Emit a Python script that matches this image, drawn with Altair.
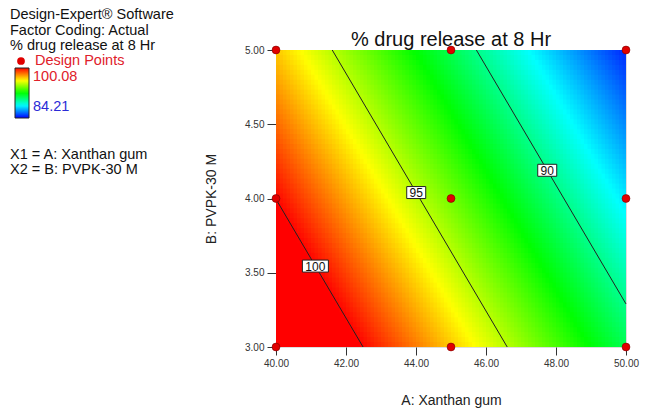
import altair as alt
import pandas as pd
import numpy as np

# ---- values ----
title_text = "% drug release at 8 Hr"
x_title = "A: Xanthan gum"
y_title = "B: PVPK-30 M"
x_range = [40.0, 50.0]
y_range = [3.0, 5.0]
x_ticks = [40, 42, 44, 46, 48, 50]
y_ticks = [3.0, 3.5, 4.0, 4.5, 5.0]

# fitted linear response:
# R = intercept - slope_A*(A-40) - slope_B*(B-3)
model_intercept = 103.02
model_slope_A = 1.214
model_slope_B = 3.035

resp_min = 84.21
resp_max = 100.08
color_stops = [84.21, 88.18, 92.15, 96.11, 100.08]
color_range = ["#0000ff", "#00ffff", "#00ff00", "#ffff00", "#ff0000"]

contour_levels = [100, 95, 90]
contour_label_B = [3.545, 4.04, 4.19]

design_A = [40, 45, 50, 40, 45, 50, 40, 45, 50]
design_B = [3, 3, 3, 4, 4, 4, 5, 5, 5]

info_lines = ["Design-Expert® Software", "Factor Coding: Actual", "% drug release at 8 Hr"]
factor_lines = ["X1 = A: Xanthan gum", "X2 = B: PVPK-30 M"]


def resp(a, b):
    return model_intercept - model_slope_A * (a - 40) - model_slope_B * (b - 3)


def a_at(level, b):
    return 40 + (model_intercept - model_slope_B * (b - 3) - level) / model_slope_A


def b_at(level, a):
    return 3 + (model_intercept - model_slope_A * (a - 40) - level) / model_slope_B


# ---- surface grid ----
nx, ny = 100, 60
xs = np.linspace(x_range[0], x_range[1], nx + 1)
ys = np.linspace(y_range[0], y_range[1], ny + 1)
dx = xs[1] - xs[0]
dy = ys[1] - ys[0]
rows = []
for i in range(nx):
    for j in range(ny):
        a0, a1 = xs[i], xs[i + 1]
        b0, b1 = ys[j], ys[j + 1]
        rows.append({
            "A0": a0, "A1": min(a1 + 0.4 * dx, x_range[1]),
            "B0": b0, "B1": min(b1 + 0.4 * dy, y_range[1]),
            "R": resp((a0 + a1) / 2, (b0 + b1) / 2),
        })
grid = pd.DataFrame(rows)

# ---- contour line segments (clipped to the design space) ----
seg_rows = []
for lev in contour_levels:
    pts = []
    for b in y_range:
        a = a_at(lev, b)
        if a < x_range[0]:
            pts.append((x_range[0], b_at(lev, x_range[0])))
        elif a > x_range[1]:
            pts.append((x_range[1], b_at(lev, x_range[1])))
        else:
            pts.append((a, b))
    for k, (a, b) in enumerate(pts):
        seg_rows.append({"level": lev, "order": k, "A": a, "B": b})
segs = pd.DataFrame(seg_rows)

labels = pd.DataFrame({
    "level": contour_levels,
    "txt": [str(l) for l in contour_levels],
    "B": contour_label_B,
    "A": [a_at(l, b) for l, b in zip(contour_levels, contour_label_B)],
})

design = pd.DataFrame({"A": design_A, "B": design_B})

FONT = "Liberation Sans"

xs_scale = alt.Scale(domain=x_range, nice=False, zero=False)
ys_scale = alt.Scale(domain=y_range, nice=False, zero=False)
x_axis = alt.Axis(values=x_ticks, format=".2f", title=x_title, grid=False,
                  tickSize=8, labelPadding=3, titlePadding=25, labelFontSize=10,
                  titleFontSize=14, titleFontWeight="normal", domain=False,
                  labelFlush=False, labelOverlap=False,
                  labelColor="#333333", tickColor="#333333", titleColor="#222222",
                  labelFont=FONT, titleFont=FONT)
y_axis = alt.Axis(values=y_ticks, format=".2f", title=y_title, grid=False,
                  tickSize=9, labelPadding=3, titlePadding=26, labelFontSize=10,
                  titleFontSize=14, titleFontWeight="normal", domain=False,
                  labelFlush=False, labelOverlap=False,
                  labelColor="#333333", tickColor="#333333", titleColor="#222222",
                  labelFont=FONT, titleFont=FONT)

color_scale = alt.Scale(domain=color_stops, range=color_range, clamp=True, interpolate="rgb")

heat = alt.Chart(grid).mark_rect(strokeWidth=0).encode(
    x=alt.X("A0:Q", scale=xs_scale, axis=x_axis),
    x2="A1:Q",
    y=alt.Y("B0:Q", scale=ys_scale, axis=y_axis),
    y2="B1:Q",
    color=alt.Color("R:Q", scale=color_scale,
                    legend=alt.Legend(orient="none", legendX=15 - 276, legendY=68 - 50,
                                      direction="vertical", gradientLength=50,
                                      gradientThickness=14, labelOpacity=0,
                                      labelFontSize=1, title=None,
                                      padding=0, gradientStrokeColor="#222222",
                                      gradientStrokeWidth=1)),
)

lines = alt.Chart(segs).mark_line(color="#222222", strokeWidth=1).encode(
    x="A:Q", y="B:Q", detail="level:N", order="order:Q")

label_layers = []
for lev, txt in zip(contour_levels, [str(l) for l in contour_levels]):
    sub = labels[labels["level"] == lev]
    w = 7 * len(txt) + 5
    box = alt.Chart(sub).mark_rect(width=w, height=12, fill="white", stroke="#222222",
                                   strokeWidth=1).encode(x="A:Q", y="B:Q")
    label_layers.append(box)
label_text = alt.Chart(labels).mark_text(font=FONT, fontSize=12, color="#111111",
                                         baseline="middle", align="center", dy=0.5).encode(
    x="A:Q", y="B:Q", text="txt:N")

points = alt.Chart(design).mark_circle(size=62, color="#e00000", opacity=1,
                                       stroke="#7a0000", strokeWidth=0.6).encode(
    x="A:Q", y="B:Q")

# ---- title and left-hand information block ----
top = [alt.Chart(pd.DataFrame({"t": [title_text]})).mark_text(
    font=FONT, fontSize=20, align="center", baseline="alphabetic", color="#111111").encode(
    x=alt.value(175), y=alt.value(-4), text="t:N")]

FS = 14.5
left = []
for k, line in enumerate(info_lines):
    left.append(alt.Chart(pd.DataFrame({"t": [line]})).mark_text(
        font=FONT, fontSize=FS, align="left", baseline="middle", color="#111111").encode(
        x=alt.value(10 - 276), y=alt.value(15 + 15.5 * k - 50), text="t:N"))
left.append(alt.Chart(pd.DataFrame({"t": ["Design Points"]})).mark_text(
    font=FONT, fontSize=FS, align="left", baseline="middle", color="#e0202a").encode(
    x=alt.value(35 - 276), y=alt.value(61 - 50), text="t:N"))
left.append(alt.Chart(pd.DataFrame({"t": ["Design Points"]})).mark_circle(
    size=60, color="#e00000", opacity=1).encode(
    x=alt.value(21 - 276), y=alt.value(61 - 50)))
left.append(alt.Chart(pd.DataFrame({"v": [resp_max]})).mark_text(
    font=FONT, fontSize=FS, align="left", baseline="middle", color="#e0202a").encode(
    x=alt.value(33 - 276), y=alt.value(77 - 50), text=alt.Text("v:Q", format=".2f")))
left.append(alt.Chart(pd.DataFrame({"v": [resp_min]})).mark_text(
    font=FONT, fontSize=FS, align="left", baseline="middle", color="#2b2bd6").encode(
    x=alt.value(33 - 276), y=alt.value(107 - 50), text=alt.Text("v:Q", format=".2f")))
for k, line in enumerate(factor_lines):
    left.append(alt.Chart(pd.DataFrame({"t": [line]})).mark_text(
        font=FONT, fontSize=FS, align="left", baseline="middle", color="#111111").encode(
        x=alt.value(10 - 276), y=alt.value(155 + 15 * k - 50), text="t:N"))

chart = alt.layer(heat, lines, *label_layers, label_text, points, *top, *left).properties(
    width=350, height=297,
    autosize=alt.AutoSizeParams(type="none"),
    padding={"left": 276, "top": 50, "right": 27, "bottom": 65},
).configure_view(stroke="#111111", strokeWidth=1).configure(background="white")

chart.save("out.html", embed_options={"renderer": "svg", "actions": False})
